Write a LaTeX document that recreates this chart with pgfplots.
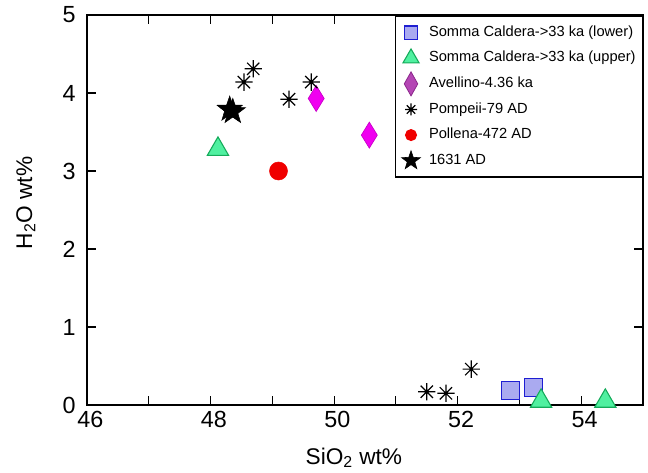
\documentclass[border=0pt]{standalone}
\usepackage{fontspec}
\setmainfont{Liberation Sans}
\usepackage{pgfplots}
\pgfplotsset{compat=1.18}

\definecolor{sqfill}{RGB}{170,170,240}
\definecolor{sqedge}{RGB}{30,30,210}
\definecolor{trifill}{RGB}{80,240,160}
\definecolor{triedge}{RGB}{20,170,90}
\definecolor{diafill}{RGB}{240,0,240}
\definecolor{diaedge}{RGB}{200,0,200}
\definecolor{legdia}{RGB}{180,70,180}
\definecolor{legdiaedge}{RGB}{140,40,140}
\definecolor{dotred}{RGB}{240,0,0}

% eight-armed asterisk
\pgfdeclareplotmark{ast8}{%
  \pgfpathmoveto{\pgfqpoint{0pt}{\pgfplotmarksize}}%
  \pgfpathlineto{\pgfqpoint{0pt}{-\pgfplotmarksize}}%
  \pgfpathmoveto{\pgfqpoint{\pgfplotmarksize}{0pt}}%
  \pgfpathlineto{\pgfqpoint{-\pgfplotmarksize}{0pt}}%
  \pgfpathmoveto{\pgfpointpolar{45}{\pgfplotmarksize}}%
  \pgfpathlineto{\pgfpointpolar{225}{\pgfplotmarksize}}%
  \pgfpathmoveto{\pgfpointpolar{135}{\pgfplotmarksize}}%
  \pgfpathlineto{\pgfpointpolar{315}{\pgfplotmarksize}}%
  \pgfusepathqstroke}
% filled five-point star
\pgfdeclareplotmark{fstar}{%
  \pgfpathmoveto{\pgfpointpolar{90}{\pgfplotmarksize}}%
  \pgfpathlineto{\pgfpointpolar{126}{0.4\pgfplotmarksize}}%
  \pgfpathlineto{\pgfpointpolar{162}{\pgfplotmarksize}}%
  \pgfpathlineto{\pgfpointpolar{198}{0.4\pgfplotmarksize}}%
  \pgfpathlineto{\pgfpointpolar{234}{\pgfplotmarksize}}%
  \pgfpathlineto{\pgfpointpolar{270}{0.4\pgfplotmarksize}}%
  \pgfpathlineto{\pgfpointpolar{306}{\pgfplotmarksize}}%
  \pgfpathlineto{\pgfpointpolar{342}{0.4\pgfplotmarksize}}%
  \pgfpathlineto{\pgfpointpolar{18}{\pgfplotmarksize}}%
  \pgfpathlineto{\pgfpointpolar{54}{0.4\pgfplotmarksize}}%
  \pgfpathclose
  \pgfusepathqfillstroke}

\begin{document}
\begin{tikzpicture}
\path[use as bounding box] (-65.25pt,-50.25pt) rectangle (420.75pt,303.75pt);
\begin{axis}[
  scale only axis, width=417pt, height=292.5pt,
  at={(0,0)}, anchor=south west,
  xmin=46, xmax=55, ymin=0, ymax=5,
  xtick={46,48,...,54}, minor xtick={47,49,...,55}, ytick={0,...,5},
  tick align=inside, tick pos=both,
  xticklabel pos=bottom, yticklabel pos=left,
  major tick length=6.75pt, minor tick length=6.75pt,
  axis line style={line width=1pt},
  every tick/.style={black, line width=0.8pt},
  tick label style={font=\fontsize{17.5}{20}\selectfont},
  /pgf/number format/assume math mode=true,
  yticklabel style={xshift=-5pt},
  xticklabel style={xshift=2.5pt, yshift=-1pt},
  xlabel={SiO\textsubscript{2} wt\%},
  ylabel={H\textsubscript{2}O wt\%},
  label style={font=\fontsize{17}{20}\selectfont},
  xlabel style={at={(axis description cs:0.48,-0.136)}, anchor=center},
  ylabel style={at={(axis description cs:-0.11,0.518)}, anchor=center},
  clip=false,
  legend style={at={(axis description cs:1,1)}, anchor=north east,
    yshift=-0.5pt, draw=black, line width=1pt,
    inner xsep=3pt, inner ysep=5pt, row sep=4.7pt,
    font=\fontsize{11}{13}\selectfont,
    nodes={text height=8pt, text depth=2.5pt, inner ysep=2pt}},
  legend cell align=left,
  legend image code/.code={%
    \path (0pt,0pt) (19pt,0pt);
    \draw[#1, overlay] plot coordinates {(8pt,0pt)};},
]
\addlegendimage{only marks, mark=square*, mark size=5pt,
  mark options={fill=sqfill, draw=sqedge, line width=0.8pt}}
\addlegendentry{Somma Caldera->33 ka (lower)}
\addlegendimage{only marks, mark=triangle*, mark size=7pt,
  mark options={fill=trifill, draw=triedge, line width=0.8pt}}
\addlegendentry{Somma Caldera->33 ka (upper)}
\addlegendimage{only marks, mark=diamond*, mark size=9pt,
  mark options={xscale=0.75, fill=legdia, draw=legdiaedge, line width=0.6pt}}
\addlegendentry{Avellino-4.36 ka}
\addlegendimage{only marks, mark=ast8, mark size=4.5pt,
  mark options={draw=black, line width=0.9pt}}
\addlegendentry{Pompeii-79 AD}
\addlegendimage{only marks, mark=*, mark size=4pt,
  mark options={fill=dotred, draw=dotred}}
\addlegendentry{Pollena-472 AD}
\addlegendimage{only marks, mark=fstar, mark size=7.5pt,
  mark options={fill=black, draw=black, line width=0.4pt}}
\addlegendentry{1631 AD}

% Somma Caldera lower
\addplot[forget plot, only marks, mark=square*, mark size=6.75pt,
  mark options={fill=sqfill, draw=sqedge, line width=0.8pt}]
  coordinates {(52.85,0.19) (53.22,0.22)};
% Somma Caldera upper
\addplot[forget plot, only marks, mark=triangle*, mark size=9.2pt,
  mark options={fill=trifill, draw=triedge, line width=0.8pt}]
  coordinates {(48.12,3.28) (53.35,0.05) (54.39,0.05)};
% Avellino
\addplot[forget plot, only marks, mark=diamond*, mark size=9.75pt,
  mark options={xscale=0.82, fill=diafill, draw=diaedge, line width=0.5pt}]
  coordinates {(49.71,3.93) (50.57,3.46)};
% Pompeii
\addplot[forget plot, only marks, mark=ast8, mark size=6.5pt,
  mark options={draw=black, line width=0.9pt}]
  coordinates {(48.69,4.31) (48.54,4.14) (49.27,3.92) (49.63,4.14)
               (51.50,0.17) (51.81,0.15) (52.22,0.46)};
% Pollena
\addplot[forget plot, only marks, mark=*, mark size=6.75pt,
  mark options={fill=dotred, draw=dotred}]
  coordinates {(49.10,3.00)};
% 1631 AD
\addplot[forget plot, only marks, mark=fstar, mark size=10pt,
  mark options={fill=black, draw=black, line width=0.4pt}]
  coordinates {(48.31,3.79) (48.36,3.76)};
\end{axis}
\end{tikzpicture}
\end{document}
